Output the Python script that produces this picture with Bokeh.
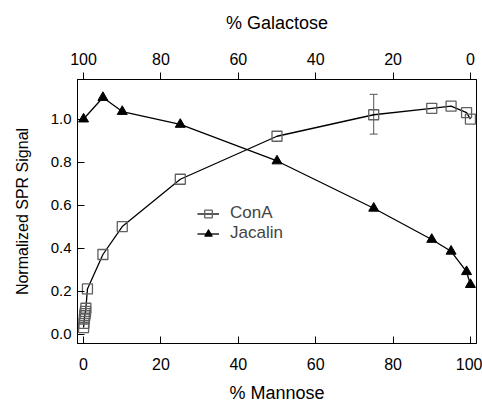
from bokeh.plotting import figure
from bokeh.models import (ColumnDataSource, Range1d, LinearAxis, FixedTicker,
                          PrintfTickFormatter, Legend, LegendItem, Whisker, TeeHead)
from bokeh.embed import file_html
from bokeh.resources import INLINE

# ---- data ----
cona_x = [0, 0.1, 0.2, 0.3, 0.4, 0.5, 0.6, 1, 5, 10, 25, 50, 75, 90, 95, 99, 100]
cona_y = [0.03, 0.05, 0.07, 0.085, 0.095, 0.105, 0.12, 0.21, 0.37, 0.50, 0.72,
          0.92, 1.02, 1.05, 1.06, 1.03, 1.00]
err_x = [75]
err_lo = [0.93]
err_hi = [1.115]
jac_x = [0, 5, 10, 25, 50, 75, 90, 95, 99, 100]
jac_y = [1.00, 1.10, 1.035, 0.975, 0.805, 0.585, 0.44, 0.385, 0.29, 0.23]
x_ticks = [0, 20, 40, 60, 80, 100]
y_ticks = [0.0, 0.2, 0.4, 0.6, 0.8, 1.0]

FONT = "Liberation Sans"

p = figure(width=482, height=407, output_backend="svg", toolbar_location=None,
           x_range=Range1d(-1.57, 101.57), y_range=Range1d(-0.044, 1.184),
           x_axis_location=None, y_axis_location=None,
           min_border_left=77, min_border_right=6, min_border_top=79, min_border_bottom=64)
p.grid.visible = False
p.outline_line_color = "black"
p.outline_line_width = 1
p.background_fill_color = "white"
p.border_fill_color = "white"

p.extra_x_ranges = {"gal": Range1d(101.57, -1.57)}


def style(ax, tin, tout):
    ax.ticker = FixedTicker(ticks=x_ticks)
    ax.minor_tick_line_color = None
    ax.major_tick_in = tin
    ax.major_tick_out = tout
    ax.major_tick_line_color = "black"
    ax.axis_line_color = "black"
    ax.major_label_text_font = FONT
    ax.major_label_text_font_size = "16px"
    ax.major_label_text_color = "black"
    ax.axis_label_text_font = FONT
    ax.axis_label_text_font_size = "18px"
    ax.axis_label_text_font_style = "normal"
    ax.axis_label_text_color = "black"


bottom = LinearAxis(axis_label="% Mannose")
style(bottom, 7, 0)
bottom.major_label_standoff = 14
bottom.axis_label_standoff = 10
p.add_layout(bottom, "below")

top = LinearAxis(axis_label="% Galactose", x_range_name="gal")
style(top, 0, 7)
top.major_label_standoff = 8
top.axis_label_standoff = 17
p.add_layout(top, "above")

left = LinearAxis(axis_label="Normalized SPR Signal")
style(left, 7, 0)
left.ticker = FixedTicker(ticks=y_ticks)
left.formatter = PrintfTickFormatter(format="%.1f")
left.major_label_text_font_size = "15px"
left.axis_label_text_font_size = "16px"
left.major_label_standoff = 6
left.axis_label_standoff = 17
p.add_layout(left, "left")

cona_src = ColumnDataSource(dict(x=cona_x, y=cona_y))
jac_src = ColumnDataSource(dict(x=jac_x, y=jac_y))
err_src = ColumnDataSource(dict(x=err_x, lo=err_lo, hi=err_hi))

w = Whisker(source=err_src, base="x", lower="lo", upper="hi", line_color="#555555",
            line_width=1,
            upper_head=TeeHead(size=8, line_color="#555555"),
            lower_head=TeeHead(size=8, line_color="#555555"))
p.add_layout(w)

c_line = p.line("x", "y", source=cona_src, line_color="black", line_width=1.3)
c_pts = p.scatter("x", "y", source=cona_src, marker="square", size=10,
                  fill_color=None, line_color="#606060", line_width=1.3)
j_line = p.line("x", "y", source=jac_src, line_color="black", line_width=1.3)
j_pts = p.scatter("x", "y", source=jac_src, marker="triangle", size=10,
                  fill_color="black", line_color="black")

legend = Legend(items=[LegendItem(label="ConA", renderers=[c_line, c_pts]),
                       LegendItem(label="Jacalin", renderers=[j_line, j_pts])],
                location=(120, 100), spacing=-2, padding=0, margin=0,
                glyph_width=22, glyph_height=19, label_height=19, label_standoff=11,
                label_text_font=FONT, label_text_font_size="17px",
                background_fill_alpha=0, border_line_color=None)
p.add_layout(legend, "center")

open("out.html", "w").write(file_html(p, INLINE))
